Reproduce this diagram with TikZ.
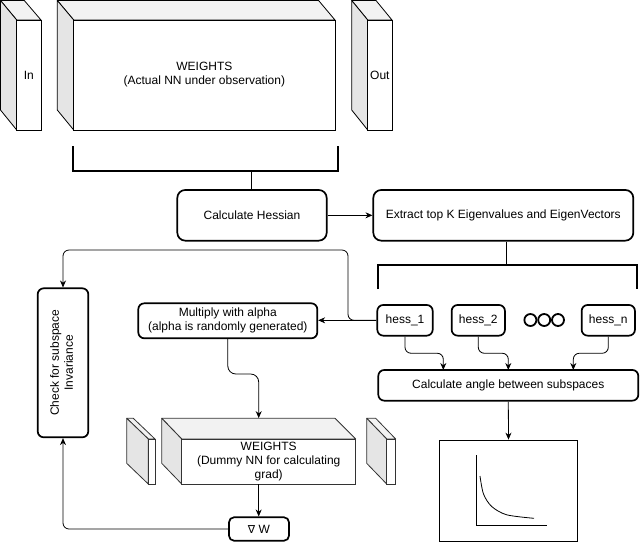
\documentclass[tikz,border=0pt]{standalone}
\usepackage{fontspec}
\usepackage{graphicx}
\setmainfont{Liberation Sans}
\newfontfamily\dejavu{DejaVu Sans}
\usetikzlibrary{arrows.meta,calc}
\tikzset{
  rbox/.style={draw=black, line width=1.7pt, rounded corners=#1, align=center, inner sep=0pt},
  rbox/.default=6,
  face/.style={draw=black, line width=0.8pt, fill=white, align=center, inner sep=0pt},
  topface/.style={draw=black, line width=0.8pt, fill=black!5, line join=round},
  sideface/.style={draw=black, line width=0.8pt, fill=black!10, line join=round},
  dface/.style={face, draw=black!80},
  dtop/.style={topface, draw=black!80},
  dside/.style={sideface, draw=black!80},
  conn/.style={line width=0.8pt, -{Stealth[length=7pt,width=6pt]}},
  thin line/.style={line width=0.8pt},
  brk/.style={line width=2pt, line join=miter},
  dot/.style={draw=black, circle, line width=1.8pt, minimum size=12pt, inner sep=0pt},
}
\begin{document}
\begin{tikzpicture}[x=1pt,y=-1pt, font=\fontsize{12}{14}\selectfont]
\useasboundingbox (0,0) rectangle (640,542);

% ---- top cubes ----
\filldraw[topface] (0.5,0.5) -- (24.3,0.5) -- (41,20) -- (16.7,20) -- cycle;
\filldraw[sideface] (0.5,0.5) -- (16.7,20) -- (16.7,130) -- (0.5,110) -- cycle;
\node[face, minimum width=24.3pt, minimum height=110pt] (inF) at (28.85,75) {In};

\filldraw[topface] (57.3,0.5) -- (318.6,0.5) -- (335,20) -- (73.7,20) -- cycle;
\filldraw[sideface] (57.3,0.5) -- (73.7,20) -- (73.7,130) -- (57.3,110) -- cycle;
\node[face, minimum width=261.3pt, minimum height=110pt] (wF) at (204.35,75) {WEIGHTS\\(Actual NN under observation)};

\filldraw[topface] (351.7,0.5) -- (376,0.5) -- (392,20) -- (367.7,20) -- cycle;
\filldraw[sideface] (351.7,0.5) -- (367.7,20) -- (367.7,130) -- (351.7,110) -- cycle;
\node[face, minimum width=24.3pt, minimum height=110pt] (outF) at (379.85,75) {Out};

% ---- bracket 1 ----
\draw[brk] (72.7,146) -- (72.7,171) -- (338,171) -- (338,146);
\coordinate (b1) at (251,171);

% ---- boxes ----
\node[rbox=8, minimum width=149.4pt, minimum height=50.7pt] (hess) at (252,215.3) {Calculate Hessian};
\node[rbox=8, minimum width=260pt, minimum height=50.7pt] (eig) at (503.3,215.3) {Extract top K Eigenvalues and EigenVectors};

\draw[brk] (378,289) -- (378,265) -- (636.7,265) -- (636.7,289);
\coordinate (b2) at (506,265);

\node[rbox=6, minimum width=55.4pt, minimum height=30.7pt] (h1) at (405,320.3) {hess\_1};
\node[rbox=6, minimum width=53.3pt, minimum height=30.7pt] (h2) at (478.3,320.3) {hess\_2};
\node[rbox=6, minimum width=53.3pt, minimum height=30.7pt] (hn) at (608.3,320.3) {hess\_n};
\node[dot] (o1) at (530.4,320) {};
\node[dot] (o2) at (544.2,320) {};
\node[dot] (o3) at (558,320) {};

\node[rbox=6, minimum width=260pt, minimum height=30.7pt] (angle) at (508.3,385.3) {Calculate angle between subspaces};
\node[draw=black, line width=0.8pt, minimum width=138.4pt, minimum height=101.7pt, inner sep=0pt] (chart) at (508.5,490.85) {};
\draw[thin line] (476.7,455) -- (476.7,525.7) -- (546.7,525.7);
\draw[thin line] plot[smooth] coordinates {(480,476) (483.5,494) (491.7,506.5) (506.7,514.8) (534,518.3)};

\node[rbox=6, minimum width=179pt, minimum height=35pt] (mult) at (227.8,320.8) {Multiply with alpha\\(alpha is randomly generated)};
\node[rbox=6, minimum width=50.6pt, minimum height=149pt] (check) at (63,362.8)
  {\rotatebox{90}{\begin{tabular}{@{}c@{}}Check for subspace\\Invariance\end{tabular}}};

% ---- dummy cubes ----
\filldraw[dtop] (126.7,418.3) -- (133.3,418.3) -- (155,439) -- (148.3,439) -- cycle;
\filldraw[dside] (126.7,418.3) -- (148.3,439) -- (148.3,484) -- (126.7,463.3) -- cycle;
\node[dface, minimum width=6.7pt, minimum height=45pt] (dlF) at (151.65,461.5) {};

\filldraw[dtop] (161.7,418.3) -- (335,418.3) -- (355.7,439) -- (181.7,439) -- cycle;
\filldraw[dside] (161.7,418.3) -- (181.7,439) -- (181.7,484) -- (161.7,463.3) -- cycle;
\node[dface, minimum width=174pt, minimum height=45pt] (dF) at (268.7,461.5) {WEIGHTS\\(Dummy NN for calculating\\grad)};
\node[minimum width=194pt, minimum height=65.7pt, inner sep=0pt] (dC) at (258.7,451.15) {};

\filldraw[dtop] (366.7,418.3) -- (375.7,418.3) -- (395.7,439) -- (386.7,439) -- cycle;
\filldraw[dside] (366.7,418.3) -- (386.7,439) -- (386.7,484) -- (366.7,463.3) -- cycle;
\node[dface, minimum width=9pt, minimum height=45pt] (drF) at (391.2,461.5) {};

\node[rbox=5, minimum width=60pt, minimum height=23.4pt] (grad) at (259,529) {{\dejavu\fontsize{11}{13}\selectfont ∇} W};

% ---- connectors ----
\draw[thin line] (b1) -- (hess.north -| b1);
\draw[conn] (hess.east) -- (eig.west);
\draw[thin line] (eig.south -| b2) -- (b2);

\draw[conn] (h1.west) -- (h1.west -| mult.east);
\coordinate (j1) at (348,250);
\draw[conn, rounded corners=6] (h1.west) -| (j1) -| (check.north);

\coordinate (mk) at (243,374);
\draw[conn, rounded corners=8] (mult.south) |- (mk) -| (dC.north);
\draw[conn] (dC.south) -- (dC.south |- grad.north);
\draw[conn, rounded corners=6] (grad.west) -| (check.south);

\coordinate (t1) at (443.3,370);
\coordinate (t2) at (508.3,370);
\coordinate (tn) at (573.3,370);
\draw[conn, rounded corners=6] (h1.south) |- ($(h1.south)!.5!(t1)$) -| (t1);
\draw[conn, rounded corners=6] (h2.south) |- ($(h2.south)!.5!(t2)$) -| (t2);
\draw[conn, rounded corners=6] (hn.south) |- ($(hn.south)!.5!(tn)$) -| (tn);

\draw[conn] (angle.south) -- (chart.north);
\end{tikzpicture}
\end{document}
